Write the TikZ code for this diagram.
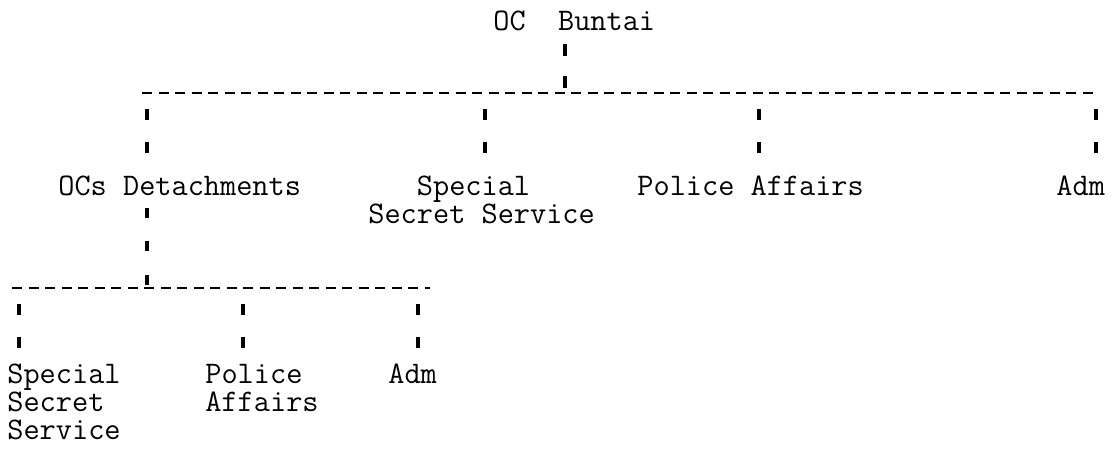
\documentclass[tikz,border=0pt]{standalone}
\usetikzlibrary{positioning,calc}

\begin{document}
\begin{tikzpicture}[x=0.5pt,y=-0.5pt,
  unit/.style={font=\ttfamily\fontsize{15.7pt}{14pt}\selectfont,inner sep=0pt,anchor=base west,align=left},
  bar/.style={line width=1.4pt,dash pattern=on 5pt off 3.25pt},
  drop/.style={line width=1.7pt,dash pattern=on 0pt off 8pt on 5.5pt off 11pt on 5.5pt off 80pt},
  rise/.style={line width=1.7pt,dash pattern=on 0pt off 2.5pt on 6pt off 10pt on 6pt off 80pt},
  riselong/.style={line width=1.7pt,dash pattern=on 0pt off 1.5pt on 5pt off 12pt on 5pt off 11.5pt on 5pt off 80pt}]
\useasboundingbox (0,0) rectangle (1113,463);

% top
\node[unit] (oc) at (493,30) {OC\ \ Buntai};
\coordinate (top) at (565,93);
\coordinate (topL) at (142,93);
\coordinate (topR) at (1096,93);

% first level (multi-line nodes sit on their last baseline)
\node[unit] (det) at (58,195) {OCs Detachments};
\node[unit] (sss) at (368,223) {\phantom{Spe}Special\\Secret Service};
\node[unit] (pol) at (637,195) {Police Affairs};
\node[unit] (adm) at (1056,195) {Adm};
\coordinate (d1) at (147,93);
\coordinate (d2) at (485,93);
\coordinate (d3) at (759,93);
\coordinate (d4) at (1096,93);

% second level
\coordinate (sub) at (147,288);
\coordinate (subL) at (12,288);
\coordinate (subR) at (430,288);
\node[unit] (sss2) at (7,439) {Special\\Secret\\Service};
\node[unit] (pol2) at (205,411) {Police\\Affairs};
\node[unit] (adm2) at (388,383) {Adm};
\coordinate (e1) at (19,288);
\coordinate (e2) at (243,288);
\coordinate (e3) at (418,288);

\draw [bar] (topL) -- (topR);
\draw [bar] (subL) -- (subR);
\draw [rise] (top) -- (top |- oc.south);
\draw [riselong] (sub) -- (sub |- det.south);
\foreach \d/\n in {d1/det,d2/sss,d3/pol,d4/adm,e1/sss2,e2/pol2,e3/adm2}
  \draw [drop] (\d) -- (\d |- \n.north);

\end{tikzpicture}
\end{document}
